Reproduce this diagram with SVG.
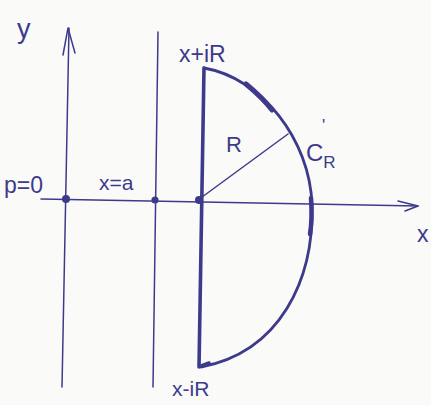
<svg xmlns="http://www.w3.org/2000/svg" width="431" height="405" viewBox="0 0 431 405">
  <style>
    .ink { stroke: #3d3a8c; fill: none; stroke-linecap: round; stroke-linejoin: round; }
    .thin { stroke-width: 1.5; }
    .thick { stroke-width: 3.6; }
    .dot { fill: #3d3a8c; }
    .lbl { font-family: "Liberation Sans", "DejaVu Sans", sans-serif; fill: #3d3a8c; }
  </style>
  <rect width="431" height="405" fill="#fafaf8"/>
  <g id="connectors">
    <path id="x-axis" class="ink thin" d="M41,199 L418,206"/>
    <path id="x-arrow" class="ink thin" d="M398,201 L418,206 L405,211"/>
    <path id="y-axis" class="ink thin" d="M69,28 L62,387"/>
    <path id="y-arrow" class="ink thin" d="M63,55 L68,28 L75,53"/>
    <path id="line-x-a" class="ink thin" d="M158,32 L153,387"/>
    <path id="radius" class="ink thin" d="M198,200 L288,134"/>
    <path id="segment" class="ink thick" d="M204,68 L199,367"/>
    <path id="arc" class="ink" stroke-width="2.8" d="M204,68 C262,78 310,140 312,205 C314,280 280,352 201,367"/>
    <path class="ink" stroke-width="5" d="M246,84 C258,94 266,102 272,110"/>
    <path class="ink" stroke-width="4.5" d="M311,198 C312,212 312,222 310,234"/>
    <path class="ink" stroke-width="3.5" d="M201,366 L209,363"/>
  </g>
  <g id="node-origin"><circle class="dot" cx="66" cy="199" r="4"/></g>
  <g id="node-a"><circle class="dot" cx="155" cy="200" r="3.6"/></g>
  <g id="node-x"><circle class="dot" cx="199" cy="200" r="4"/></g>
  <g id="labels">
    <text class="lbl" x="17" y="38" font-size="27">y</text>
    <text class="lbl" x="4" y="193" font-size="23">p=0</text>
    <text class="lbl" x="99" y="190" font-size="21">x=a</text>
    <text class="lbl" x="179" y="62" font-size="23">x+iR</text>
    <text class="lbl" x="172" y="396" font-size="21">x-iR</text>
    <text class="lbl" x="226" y="152" font-size="22">R</text>
    <text class="lbl" x="306" y="161" font-size="24">C<tspan font-size="17" dy="7">R</tspan></text>
    <text class="lbl" x="322" y="131" font-size="17">'</text>
    <text class="lbl" x="417" y="242" font-size="23">x</text>
  </g>
</svg>
